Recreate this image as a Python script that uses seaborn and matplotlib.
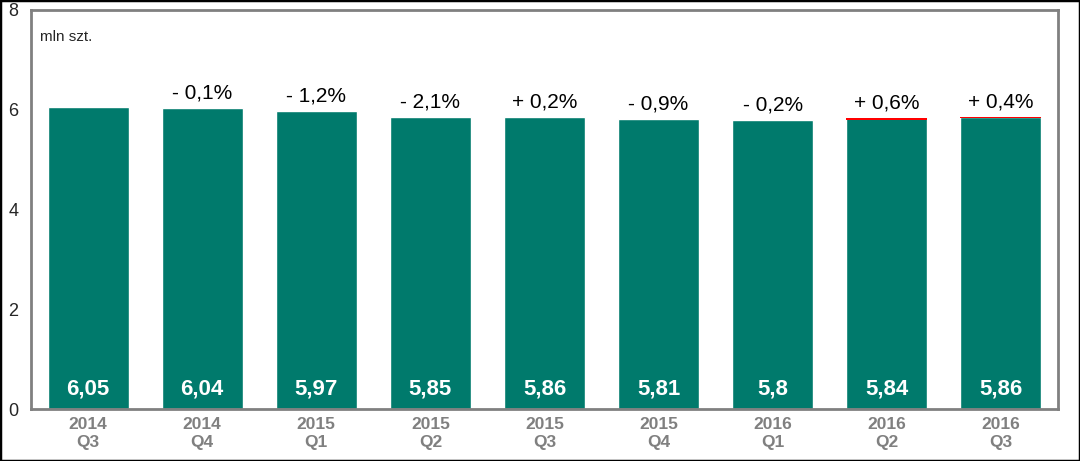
import numpy as np
import pandas as pd
import seaborn as sns
import matplotlib.pyplot as plt
from matplotlib.patches import Rectangle

# data
quarters = ['2014\nQ3', '2014\nQ4', '2015\nQ1', '2015\nQ2', '2015\nQ3',
            '2015\nQ4', '2016\nQ1', '2016\nQ2', '2016\nQ3']
values = [6.05, 6.04, 5.97, 5.85, 5.86, 5.81, 5.80, 5.84, 5.86]
value_labels = ['6,05', '6,04', '5,97', '5,85', '5,86', '5,81', '5,8', '5,84', '5,86']
changes = ['', '- 0,1%', '- 1,2%', '- 2,1%', '+ 0,2%', '- 0,9%', '- 0,2%', '+ 0,6%', '+ 0,4%']
# thin red increase strip on top of the last bars
red_part = [0, 0, 0, 0, 0, 0, 0, 0.04, 0.03]

df = pd.DataFrame({'kw': quarters, 'val': values})

sns.set_style('white')
plt.rcParams['font.family'] = ['Liberation Sans', 'DejaVu Sans']

fig = plt.figure(figsize=(10.8, 4.61), dpi=100)
ax = fig.add_axes([31/1080, 52/461, (1058-31)/1080, (409-10)/461])

teal = '#007A6C'
sns.barplot(data=df, x='kw', y='val', color=teal, saturation=1, width=0.71, ax=ax)

x = np.arange(len(quarters))
red = np.array(red_part)
vals = np.array(values)
ax.bar(x[red > 0], red[red > 0], bottom=vals[red > 0] - red[red > 0], width=0.71,
       color='#FF0000', linewidth=0, zorder=5)

for i in range(len(quarters)):
    ax.text(i, 0.2, value_labels[i], ha='center', va='bottom', color='white',
            fontsize=16, fontweight='bold')
    if changes[i]:
        ax.annotate(changes[i], (i, values[i]), xytext=(0, 4), textcoords='offset points',
                    ha='center', va='bottom', fontsize=15, color='black')

ax.text(0.009, 0.95, 'mln szt.', transform=ax.transAxes, ha='left', va='top', fontsize=11)

ax.set_ylim(0, 8)
ax.set_xlim(-0.5, len(quarters) - 0.5)
ax.set_yticks([0, 2, 4, 6, 8])
ax.set_xlabel('')
ax.set_ylabel('')

gray = '#808080'
for s in ax.spines.values():
    s.set_color(gray)
    s.set_linewidth(2)

ax.set_xticks(x)
ax.set_xticklabels(quarters, fontweight='bold', color='#808080', fontsize=12.5,
                   linespacing=1.25)
ax.set_xticks(np.arange(len(quarters) + 1) - 0.5, minor=True)
ax.tick_params(axis='x', which='major', length=0, pad=6)
ax.tick_params(axis='x', which='minor', length=5, width=1.5, color=gray, direction='out')
ax.tick_params(axis='y', length=5, width=1.5, color=gray, direction='out', labelsize=13, pad=4)

fig.patches.append(Rectangle((0, 0), 1, 1, transform=fig.transFigure, fill=False,
                             edgecolor='black', linewidth=2.5))

plt.savefig('out.png', dpi=100)
